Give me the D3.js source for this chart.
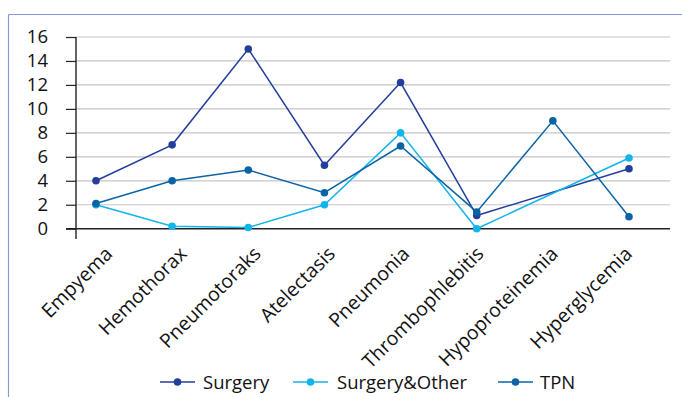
<!DOCTYPE html>
<html>
<head>
<meta charset="utf-8">
<script src="https://cdn.jsdelivr.net/npm/d3@7/dist/d3.min.js"></script>
<style>
  html, body { margin: 0; padding: 0; background: #fff; }
  svg text { font-family: "Open Sans", "Noto Sans", sans-serif; fill: #111; }
</style>
</head>
<body>
<svg id="chart" width="682" height="397"></svg>
<script>
// Complication categories
const categories = ["Empyema", "Hemothorax", "Pneumotoraks", "Atelectasis",
  "Pneumonia", "Thrombophlebitis", "Hypoproteinemia", "Hyperglycemia"];

// Series values (null = not reported; line runs straight past it)
const surgery      = [4, 7, 15, 5.3, 12.2, 1.1, null, 5];
const surgeryOther = [2, 0.2, 0.1, 2, 8, 0, null, 5.9];
const tpn          = [2.1, 4, 4.9, 3, 6.9, 1.4, 9, 1];

const yTicks = [0, 2, 4, 6, 8, 10, 12, 14, 16];

const seriesList = [
  { name: "Surgery",       values: surgery,      color: "#233f9b" },
  { name: "Surgery&Other", values: surgeryOther, color: "#12b4ec" },
  { name: "TPN",           values: tpn,          color: "#0a63a5" }
];

const svg = d3.select("#chart");

// frame lines along the top and left
svg.append("line").attr("x1", 8.5).attr("x2", 682).attr("y1", 14.5).attr("y2", 14.5)
  .attr("stroke", "#8799d3").attr("stroke-width", 1.2);
svg.append("line").attr("x1", 8.5).attr("x2", 8.5).attr("y1", 14.5).attr("y2", 397)
  .attr("stroke", "#8799d3").attr("stroke-width", 1.2);

const plotLeft = 76, plotRight = 670;
const y = d3.scaleLinear().domain([0, 16]).range([228.7, 37]);
const x = d3.scalePoint().domain(categories).range([96, 629]);
// category bands used for the axis labels
const xBand = d3.scaleBand().domain(categories).range([plotLeft, plotRight]);

// horizontal gridlines
svg.append("g").selectAll("line").data(yTicks.filter(t => t > 0)).join("line")
  .attr("x1", plotLeft).attr("x2", plotRight)
  .attr("y1", d => y(d)).attr("y2", d => y(d))
  .attr("stroke", "#c6c6c6").attr("stroke-width", 1.2);

// y axis
const yAxis = d3.axisLeft(y).tickValues(yTicks).tickSize(10).tickPadding(18);
const gy = svg.append("g").attr("transform", `translate(${plotLeft},0)`).call(yAxis);
gy.select(".domain").remove();
gy.selectAll(".tick line").attr("stroke", "#222").attr("stroke-width", 1.2);
gy.selectAll(".tick text").attr("font-size", 18.5).attr("fill", "#111")
  .style("font-family", "'Open Sans', sans-serif");
svg.append("line").attr("x1", plotLeft).attr("x2", plotLeft)
  .attr("y1", y(16)).attr("y2", 239).attr("stroke", "#222").attr("stroke-width", 1.4);

// x axis baseline
svg.append("line").attr("x1", plotLeft - 10).attr("x2", plotRight)
  .attr("y1", y(0)).attr("y2", y(0)).attr("stroke", "#222").attr("stroke-width", 1.4);

// category labels, rotated
svg.append("g").selectAll("text").data(categories).join("text")
  .attr("text-anchor", "end")
  .attr("font-size", 19.5)
  .attr("transform", d => `translate(${xBand(d) + xBand.bandwidth() / 2 + 0.5},${255}) rotate(-45)`)
  .text(d => d);

// series lines and markers
const line = d3.line().x(d => x(d.cat)).y(d => y(d.v));
seriesList.forEach(s => {
  const pts = categories.map((c, i) => ({ cat: c, v: s.values[i] })).filter(d => d.v != null);
  svg.append("path").datum(pts)
    .attr("d", line).attr("fill", "none")
    .attr("stroke", s.color).attr("stroke-width", 1.5);
  svg.append("g").selectAll("circle").data(pts).join("circle")
    .attr("cx", d => x(d.cat)).attr("cy", d => y(d.v)).attr("r", 3.8)
    .attr("fill", s.color);
});

// legend
const legendItems = [
  { s: seriesList[0], x0: 160, tx: 203 },
  { s: seriesList[1], x0: 293, tx: 337 },
  { s: seriesList[2], x0: 498, tx: 540 }
];
const ly = 382;
const lg = svg.append("g");
legendItems.forEach(it => {
  lg.append("line").attr("x1", it.x0).attr("x2", it.x0 + 35)
    .attr("y1", ly).attr("y2", ly).attr("stroke", it.s.color).attr("stroke-width", 1.5);
  lg.append("circle").attr("cx", it.x0 + 17.5).attr("cy", ly).attr("r", 3.8).attr("fill", it.s.color);
  lg.append("text").attr("x", it.tx).attr("y", ly).attr("dy", "0.36em")
    .attr("font-size", 18.5).text(it.s.name);
});
</script>
</body>
</html>
